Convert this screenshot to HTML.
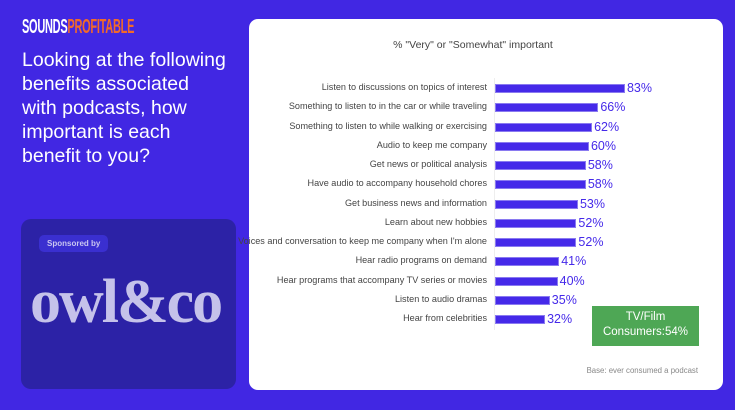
<!DOCTYPE html>
<html><head><style>
*{margin:0;padding:0;box-sizing:border-box}
body{width:735px;height:410px;background:#4127e3;position:relative;overflow:hidden;font-family:"Liberation Sans",sans-serif}
.logo{position:absolute;left:22px;top:17px;font-weight:bold;font-size:20px;line-height:1;letter-spacing:-0.5px;transform:scaleX(0.55);transform-origin:left;white-space:nowrap}
.q{position:absolute;left:22px;top:48px;color:#fff;font-size:19.5px;line-height:24px;white-space:nowrap}
.sp{position:absolute;left:21px;top:219px;width:215px;height:170px;background:#2c22a6;border-radius:10px}
.sb{position:absolute;left:18px;top:16px;background:#3a2fd0;color:#c9c6f0;font-size:8px;font-weight:bold;padding:4px 8px;border-radius:5px}
.owl{position:absolute;left:9px;top:52px;line-height:1;color:#c5c2ea;font-family:"Liberation Serif",serif;font-weight:bold;font-size:62px;letter-spacing:-2px;white-space:nowrap}
.card{position:absolute;left:249px;top:19px;width:474px;height:371px;background:#fff;border-radius:9px}
.t{position:absolute;left:0;width:100%;top:20px;text-align:center;font-size:10.5px;color:#444;padding-right:26px}
.lab{position:absolute;right:236px;font-size:9.1px;color:#444;white-space:nowrap;text-align:right}
.bar{position:absolute;left:246px;height:9px;background:#4529e9;border:1px solid #8a7af0}
.v{position:absolute;font-size:12.5px;color:#4529e9}
.axis{position:absolute;left:245px;top:59px;width:1px;height:252px;background:#eee}
.g{position:absolute;left:343px;top:287px;width:107px;height:40px;background:#4ea755;color:#fff;font-size:11.5px;text-align:center;line-height:15px;padding-top:4px}
.base{position:absolute;right:25px;top:347px;font-size:7.8px;color:#888}
</style></head><body>
<div class="logo"><span style="color:#fff">SOUNDS</span><span style="color:#f26a2a">PROFITABLE</span></div>
<div class="q">Looking at the following<br>benefits associated<br>with podcasts, how<br>important is each<br>benefit to you?</div>
<div class="sp"><div class="sb">Sponsored by</div><div class="owl">owl&amp;co</div></div>
<div class="card">
<div class="t">% "Very" or "Somewhat" important</div>
<div class="axis"></div>
<div id="rows"></div>
<div class="g">TV/Film<br>Consumers:54%</div>
<div class="base">Base: ever consumed a podcast</div>
</div>
<script>
var d=[["Listen to discussions on topics of interest",83],["Something to listen to in the car or while traveling",66],["Something to listen to while walking or exercising",62],["Audio to keep me company",60],["Get news or political analysis",58],["Have audio to accompany household chores",58],["Get business news and information",53],["Learn about new hobbies",52],["Voices and conversation to keep me company when I'm alone",52],["Hear radio programs on demand",41],["Hear programs that accompany TV series or movies",40],["Listen to audio dramas",35],["Hear from celebrities",32]];
var h="";d.forEach(function(r,i){var y=65+i*19.25;var w=r[1]*1.566;
h+='<div class="lab" style="top:'+(y-2)+'px">'+r[0]+'</div><div class="bar" style="top:'+y+'px;width:'+w+'px"></div><div class="v" style="top:'+(y-3)+'px;left:'+(248+w)+'px">'+r[1]+'%</div>';});
document.getElementById("rows").innerHTML=h;
</script>
</body></html>
